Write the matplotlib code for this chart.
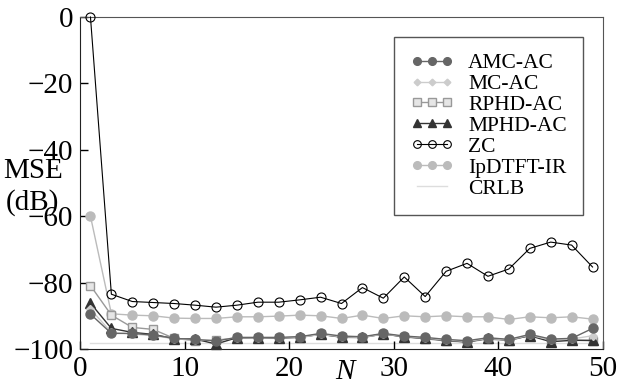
import matplotlib
matplotlib.use("Agg")
import matplotlib.pyplot as plt

plt.rcParams['font.family'] = ['Liberation Serif', 'DejaVu Serif']
plt.rcParams['mathtext.fontset'] = 'stix'

# data
N = [1, 3, 5, 7, 9, 11, 13, 15, 17, 19, 21, 23, 25,
     27, 29, 31, 33, 35, 37, 39, 41, 43, 45, 47, 49]
amc = [-89.5, -95.3, -95.3, -95.8, -96.8, -97.1, -97.6, -96.5, -96.5, -96.5, -96.3, -95.3, -96.1,
       -96.3, -95.3, -96.1, -96.5, -97.1, -97.5, -96.6, -97.1, -95.6, -97.0, -96.8, -93.8]
mc = [-88.0, -95.0, -95.5, -96.0, -96.9, -97.3, -97.4, -96.6, -96.6, -96.6, -96.5, -95.6, -96.3,
      -96.5, -95.5, -96.2, -96.7, -97.3, -97.7, -96.8, -97.3, -95.8, -97.3, -97.0, -96.0]
rphd = [-80.9, -89.8, -93.5, -94.1, -96.8, -97.5, -97.3, -96.8, -96.6, -96.8, -96.6, -95.5, -96.5,
        -96.6, -95.4, -96.4, -96.9, -97.6, -97.9, -97.0, -97.5, -95.9, -97.5, -97.3, -97.5]
mphd = [-86.2, -93.8, -95.0, -95.6, -96.9, -97.0, -98.5, -96.6, -96.6, -96.7, -96.4, -95.6, -96.4,
        -96.5, -95.5, -96.3, -96.8, -97.4, -97.9, -96.8, -97.3, -96.0, -97.8, -97.4, -97.4]
zc = [0.0, -83.5, -85.7, -86.0, -86.3, -86.8, -87.4, -86.8, -85.9, -85.9, -85.2, -84.4, -86.3,
      -81.5, -84.7, -78.3, -84.2, -76.6, -74.2, -78.1, -75.9, -69.7, -67.8, -68.7, -75.3]
ipdtft = [-60.0, -89.4, -89.8, -90.0, -90.7, -90.8, -90.8, -90.3, -90.3, -90.1, -89.8, -90.0, -90.8,
          -89.8, -90.8, -90.0, -90.3, -90.0, -90.3, -90.3, -91.1, -90.3, -90.6, -90.3, -91.0]
crlb = [-98.3, -98.3, -98.3, -98.3, -98.3, -98.3, -98.3, -98.3, -98.3, -98.3, -98.3, -98.3, -98.3,
        -98.3, -98.3, -98.3, -98.3, -98.3, -98.3, -98.3, -98.3, -98.3, -98.3, -98.3, -98.3]

fig = plt.figure(figsize=(6.19, 3.85), dpi=100)
ax = fig.add_axes([80 / 619, 1 - 349 / 385, 523 / 619, 332 / 385])

ax.plot(N, crlb, color='#dddddd', lw=1.0, label='CRLB', zorder=1)
ax.plot(N, ipdtft, color='#bbbbbb', lw=1.0, marker='o', ms=6.5, mec='#bbbbbb',
        label='IpDTFT-IR', clip_on=False, zorder=2)
ax.plot(N, zc, color='black', lw=0.8, marker='o', ms=6.5, mfc='none', mec='black',
        mew=0.8, label='ZC', clip_on=False, zorder=3)
ax.plot(N, rphd, color='#999999', lw=1.0, marker='s', ms=6, mfc='#e6e6e6', mec='#999999',
        label='RPHD-AC', clip_on=False, zorder=4)
ax.plot(N, mphd, color='#333333', lw=1.0, marker='^', ms=6.5, label='MPHD-AC',
        clip_on=False, zorder=5)
ax.plot(N, mc, color='#cccccc', lw=1.0, marker='D', ms=4, label='MC-AC',
        clip_on=False, zorder=5)
ax.plot(N, amc, color='#666666', lw=1.0, marker='o', ms=6.5, label='AMC-AC',
        clip_on=False, zorder=6)

ax.set_xlim(0, 50)
ax.set_ylim(-100, 0)
ax.set_xticks([0, 10, 20, 30, 40, 50])
ax.set_yticks([0, -20, -40, -60, -80, -100])
ax.tick_params(direction='in', length=6, width=1, labelsize=21, pad=5)
for s in ['left', 'bottom']:
    ax.spines[s].set_color('#222222')
for s in ['top', 'right']:
    ax.spines[s].set_color('#555555')

ax.set_ylabel('MSE\n(dB)', rotation=0, fontsize=21, linespacing=1.25)
ax.yaxis.set_label_coords(-0.09, 0.40)
ax.text(25.3, -0.03, 'N', transform=ax.get_xaxis_transform(), fontsize=21,
        style='italic', ha='center', va='top')

handles, labels = ax.get_legend_handles_labels()
order = ['AMC-AC', 'MC-AC', 'RPHD-AC', 'MPHD-AC', 'ZC', 'IpDTFT-IR', 'CRLB']
hl = dict(zip(labels, handles))
ax.legend([hl[k] for k in order], order, loc='upper right', bbox_to_anchor=(0.962, 0.94),
          numpoints=3, markerscale=0.85, fontsize=15.5, handlelength=2.0, handletextpad=0.7,
          labelspacing=0.04, borderpad=0.75, borderaxespad=0, fancybox=False,
          edgecolor='#555555', framealpha=1)

fig.savefig('out.png', dpi=100)
